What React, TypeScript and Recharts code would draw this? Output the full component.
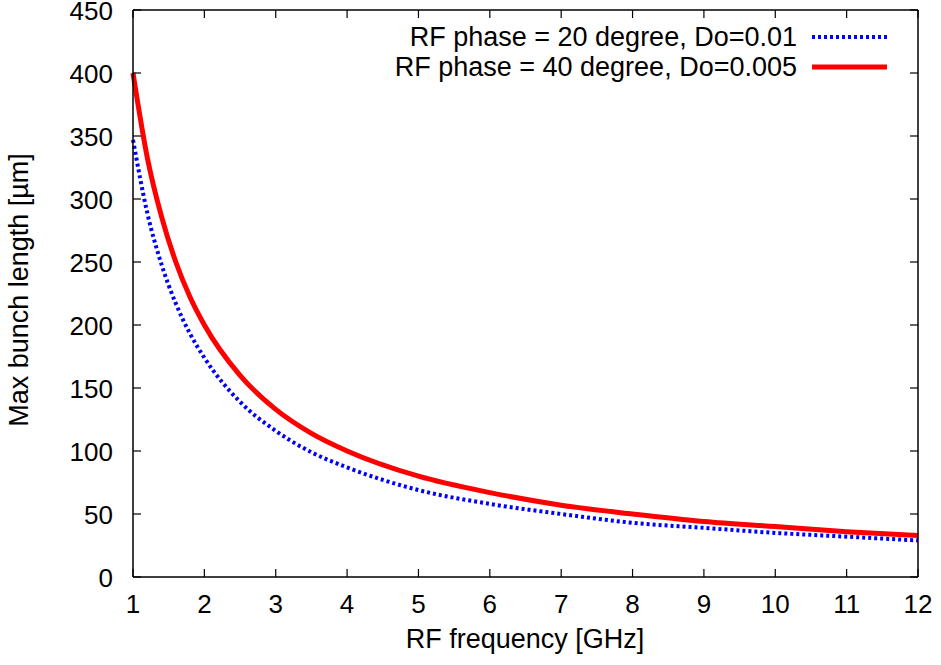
import React from 'react'
import { LineChart, Line, XAxis, YAxis, Customized } from 'recharts'

// RF frequency [GHz]
const freqs = [1, 1.2, 1.4, 1.6, 1.8, 2, 2.5, 3, 3.5, 4, 5, 6, 7, 8, 9, 10, 11, 12]
// RF phase = 20 degree, Do=0.01
const phase20 = [347, 289, 248, 217, 193, 174, 139, 116, 99, 87, 69, 58, 50, 43, 39, 35, 32, 29]
// RF phase = 40 degree, Do=0.005
const phase40 = [400, 333, 286, 250, 222, 200, 160, 133, 114, 100, 80, 67, 57, 50, 44, 40, 36, 33]

const xTicks = [1, 2, 3, 4, 5, 6, 7, 8, 9, 10, 11, 12]
const yTicks = [0, 50, 100, 150, 200, 250, 300, 350, 400, 450]

const legendItems = [
  { label: 'RF phase = 20 degree, Do=0.01', color: '#0000ff', dash: '3 3', width: 4 },
  { label: 'RF phase = 40 degree, Do=0.005', color: '#ff0000', dash: undefined, width: 5 },
]

const data = freqs.map((f, i) => ({ f, p20: phase20[i], p40: phase40[i] }))

const FONT = '"Liberation Sans", Arial, sans-serif'
const FS = 26 // tick labels
const FS_TITLE = 27 // axis titles and legend
const TICK = 8
// recharts puts tick text at tickSize + tickMargin from the axis line
const GAP = 8

const BottomTick = (props: any) => {
  const { x, y, payload } = props
  const ay = y - GAP
  return (
    <g>
      <line x1={x} x2={x} y1={ay} y2={ay - TICK} stroke="#000" strokeWidth={1.2} />
      <text x={x} y={ay + 36} textAnchor="middle" fontSize={FS} fill="#000" fontFamily={FONT}>
        {payload.value}
      </text>
    </g>
  )
}

const LeftTick = (props: any) => {
  const { x, y, payload } = props
  const ax = x + GAP
  return (
    <g>
      <line x1={ax} x2={ax + TICK} y1={y} y2={y} stroke="#000" strokeWidth={1.2} />
      <text x={ax - 20} y={y + 10} textAnchor="end" fontSize={FS} fill="#000" fontFamily={FONT}>
        {payload.value}
      </text>
    </g>
  )
}

const TopTick = (props: any) => {
  const { x, y } = props
  const ay = y + GAP
  return <line x1={x} x2={x} y1={ay} y2={ay + TICK} stroke="#000" strokeWidth={1.2} />
}

const RightTick = (props: any) => {
  const { x, y } = props
  const ax = x - GAP
  return <line x1={ax} x2={ax - TICK} y1={y} y2={y} stroke="#000" strokeWidth={1.2} />
}

const Extras = () => (
  <g fontFamily={FONT} fill="#000">
    <text x={525} y={648} textAnchor="middle" fontSize={FS_TITLE}>
      RF frequency [GHz]
    </text>
    <text x={28} y={290} textAnchor="middle" fontSize={FS_TITLE} transform="rotate(-90 28 290)">
      Max bunch length [µm]
    </text>
    {legendItems.map((item, i) => {
      const cy = 37 + i * 30
      return (
        <g key={item.label}>
          <text x={797} y={cy + 9} textAnchor="end" fontSize={FS_TITLE}>
            {item.label}
          </text>
          <line
            x1={812}
            x2={887}
            y1={cy}
            y2={cy}
            stroke={item.color}
            strokeWidth={item.width}
            strokeDasharray={item.dash}
          />
        </g>
      )
    })}
  </g>
)

const axisLine = { stroke: '#000', strokeWidth: 1.5 }

export default function App() {
  return (
    <div style={{ position: 'absolute', left: 0, top: 0, background: '#fff', fontFamily: FONT }}>
      <LineChart width={941} height={665} data={data} margin={{ top: 9, right: 22, bottom: 0, left: 0 }}>
        <XAxis
          dataKey="f"
          type="number"
          domain={[1, 12]}
          ticks={xTicks}
          height={88}
          tickSize={6}
          tickMargin={2}
          tickLine={false}
          axisLine={axisLine}
          tick={<BottomTick />}
          interval={0}
        />
        <XAxis
          xAxisId="top"
          dataKey="f"
          type="number"
          orientation="top"
          domain={[1, 12]}
          ticks={xTicks}
          height={1}
          tickSize={6}
          tickMargin={2}
          tickLine={false}
          axisLine={axisLine}
          tick={<TopTick />}
          interval={0}
        />
        <YAxis
          type="number"
          domain={[0, 450]}
          ticks={yTicks}
          width={133}
          tickSize={6}
          tickMargin={2}
          tickLine={false}
          axisLine={axisLine}
          tick={<LeftTick />}
          interval={0}
        />
        <YAxis
          yAxisId="right"
          orientation="right"
          type="number"
          domain={[0, 450]}
          ticks={yTicks}
          width={1}
          tickSize={6}
          tickMargin={2}
          tickLine={false}
          axisLine={axisLine}
          tick={<RightTick />}
          interval={0}
        />
        <Line
          type="monotone"
          dataKey="p20"
          stroke="#0000ff"
          strokeWidth={4}
          strokeDasharray="3 3"
          dot={false}
          isAnimationActive={false}
        />
        <Line
          xAxisId="top"
          yAxisId="right"
          type="monotone"
          dataKey="p40"
          stroke="#ff0000"
          strokeWidth={5}
          dot={false}
          isAnimationActive={false}
        />
        <Customized component={<Extras />} />
      </LineChart>
    </div>
  )
}
